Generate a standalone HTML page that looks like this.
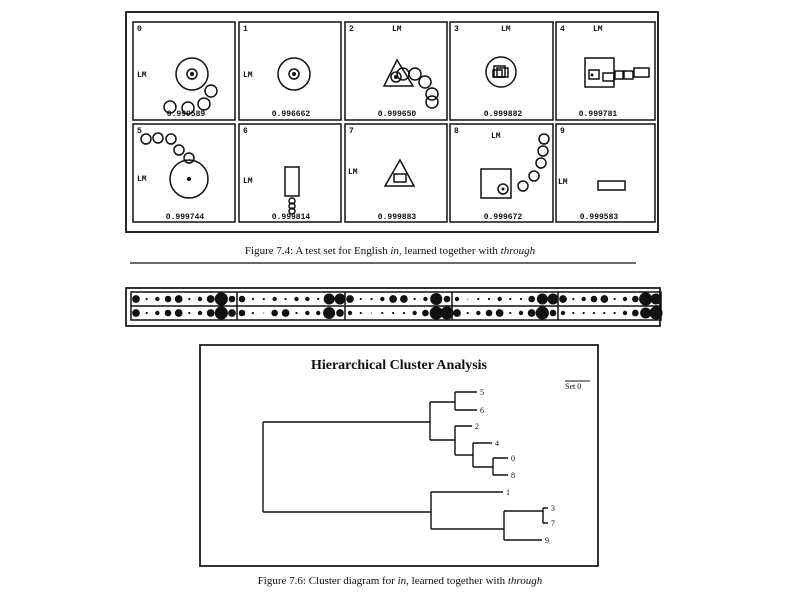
<!DOCTYPE html>
<html><head><meta charset="utf-8"><style>
body{margin:0;background:#fff;}
svg{display:block}
text{font-family:"Liberation Mono",monospace;font-size:8px;font-weight:bold;fill:#111}
.s{font-family:"Liberation Serif",serif;font-weight:normal;font-size:11px}
</style></head><body>
<svg id="s" width="800" height="600" viewBox="0 0 800 600" xmlns="http://www.w3.org/2000/svg">
<g fill="none" stroke="#111" stroke-width="1.5">
<rect x="126" y="12" width="532" height="220" stroke-width="1.8"/>
<rect x="133" y="22" width="102" height="98"/>
<rect x="239" y="22" width="102" height="98"/>
<rect x="345" y="22" width="102" height="98"/>
<rect x="450" y="22" width="103" height="98"/>
<rect x="556" y="22" width="99" height="98"/>
<rect x="133" y="124" width="102" height="98"/>
<rect x="239" y="124" width="102" height="98"/>
<rect x="345" y="124" width="102" height="98"/>
<rect x="450" y="124" width="103" height="98"/>
<rect x="556" y="124" width="99" height="98"/>
<circle cx="192" cy="74" r="16"/><circle cx="192" cy="74" r="5"/>
<circle cx="211" cy="91" r="6"/><circle cx="204" cy="104" r="6"/><circle cx="188" cy="108" r="6"/><circle cx="170" cy="107" r="6"/>
<circle cx="294" cy="74" r="16"/><circle cx="294" cy="74" r="5"/>
<polygon points="397,60 384,86 413,86"/>
<circle cx="396" cy="77" r="5"/><circle cx="403" cy="74" r="6"/><circle cx="415" cy="74" r="6"/><circle cx="425" cy="82" r="6"/><circle cx="432" cy="94" r="6"/><circle cx="432" cy="102" r="6"/>
<circle cx="501" cy="72" r="15"/><rect x="494" y="66" width="11" height="11"/><rect x="497" y="68" width="11" height="9"/><rect x="493" y="70" width="9" height="7"/>
<rect x="585" y="58" width="29" height="29"/><rect x="589" y="70" width="10" height="9"/><rect x="603" y="73" width="11" height="8"/><rect x="615" y="71" width="8" height="8"/><rect x="624" y="71" width="9" height="8"/><rect x="634" y="68" width="15" height="9"/>
<circle cx="146" cy="139" r="5"/><circle cx="158" cy="138" r="5"/><circle cx="171" cy="139" r="5"/><circle cx="179" cy="150" r="5"/><circle cx="189" cy="158" r="5"/>
<circle cx="189" cy="179" r="19"/>
<rect x="285" y="167" width="14" height="29"/><circle cx="292" cy="201" r="3"/><circle cx="292" cy="206" r="3"/><circle cx="292" cy="211" r="3"/>
<polygon points="400,160 385,186 414,186"/><rect x="394" y="174" width="12" height="8"/>
<rect x="481" y="169" width="30" height="29"/>
<circle cx="503" cy="189" r="5"/><circle cx="523" cy="186" r="5"/><circle cx="534" cy="176" r="5"/><circle cx="541" cy="163" r="5"/><circle cx="543" cy="151" r="5"/><circle cx="544" cy="139" r="5"/>
<rect x="598" y="181" width="27" height="9"/>
<line x1="130" y1="263" x2="636" y2="263" stroke-width="1.2"/>
<rect x="126" y="288" width="534" height="38" stroke-width="1.7"/>
<rect x="131" y="292" width="530" height="28"/>
<line x1="131" y1="306" x2="661" y2="306"/>
<line x1="237" y1="292" x2="237" y2="320"/><line x1="345" y1="292" x2="345" y2="320"/><line x1="452" y1="292" x2="452" y2="320"/><line x1="558" y1="292" x2="558" y2="320"/>
<rect x="200" y="345" width="398" height="221" stroke-width="1.7"/>
<path d="M263 422V512M263 422H430M430 402V440M430 402H455M455 392V410M455 392H477M455 410H477M430 440H455M455 426V455M455 426H472M455 455H473M473 443V467M473 443H492M473 467H493M493 458V475M493 458H508M493 475H508M263 512H431M431 492V529M431 492H503M431 529H504M504 511V540M504 511H543M543 508V523M543 508H548M543 523H548M504 540H542" stroke-width="1.4"/>
<line x1="565" y1="381" x2="590" y2="381" stroke-width="0.9"/>
</g>
<g fill="#111" id="dots"><circle cx="192" cy="74" r="2"/><circle cx="294" cy="74" r="2"/><circle cx="396" cy="77" r="2"/><circle cx="592" cy="75" r="1.5"/><circle cx="189" cy="179" r="2"/><circle cx="503" cy="189" r="1.5"/></g>
<text x="137" y="31">0</text><text x="243" y="31">1</text><text x="349" y="31">2</text><text x="454" y="31">3</text><text x="560" y="31">4</text>
<text x="137" y="133">5</text><text x="243" y="133">6</text><text x="349" y="133">7</text><text x="454" y="133">8</text><text x="560" y="133">9</text>
<text x="137" y="77">LM</text><text x="243" y="77">LM</text><text x="392" y="31">LM</text><text x="501" y="31">LM</text><text x="593" y="31">LM</text>
<text x="137" y="181">LM</text><text x="243" y="183">LM</text><text x="348" y="174">LM</text><text x="491" y="138">LM</text><text x="558" y="184">LM</text>
<g text-anchor="middle"><text x="186" y="116">0.999589</text><text x="291" y="116">0.996662</text><text x="397" y="116">0.999650</text><text x="503" y="116">0.999882</text><text x="598" y="116">0.999781</text>
<text x="185" y="219">0.999744</text><text x="291" y="219">0.999814</text><text x="397" y="219">0.999883</text><text x="503" y="219">0.999672</text><text x="599" y="219">0.999583</text></g>
<text class="s" x="390" y="254" text-anchor="middle">Figure 7.4: A test set for English <tspan font-style="italic">in</tspan>, learned together with <tspan font-style="italic">through</tspan></text>
<text class="s" x="399" y="369" text-anchor="middle" style="font-size:14px;font-weight:bold">Hierarchical Cluster Analysis</text>
<text class="s" x="565" y="389" style="font-size:8px">Set 0</text>
<g><text class="s" x="480" y="395" style="font-size:8px">5</text><text class="s" x="480" y="413" style="font-size:8px">6</text><text class="s" x="475" y="429" style="font-size:8px">2</text><text class="s" x="495" y="446" style="font-size:8px">4</text><text class="s" x="511" y="461" style="font-size:8px">0</text><text class="s" x="511" y="478" style="font-size:8px">8</text><text class="s" x="506" y="495" style="font-size:8px">1</text><text class="s" x="551" y="511" style="font-size:8px">3</text><text class="s" x="551" y="526" style="font-size:8px">7</text><text class="s" x="545" y="543" style="font-size:8px">9</text></g>
<text class="s" x="400" y="584" text-anchor="middle">Figure 7.6: Cluster diagram for <tspan font-style="italic">in</tspan>, learned together with <tspan font-style="italic">through</tspan></text>
</svg>
<script>
var g=document.getElementById('dots'),segs=[131,237,345,452,558];
var pats=[[3.5,1,2,3,3.5,1,2,3.5,6,3],[3,1,1,2,1,2,2,1,5,5],[3.5,1,1,2,3.5,3.5,1,2,5.5,3],[2,0.5,1,1,2,1,1,3,5,5],[3.5,1,2,3,3.5,1,2,3,6,5]];
var pats2=[[3.5,1,2,3,3.5,1,2,3.5,6,3.5],[3,1,0.5,3,3.5,1,2,2,5.5,3.5],[2,1,0.5,1,1,1,2,3,6,6],[3.5,1,2,3,3.5,1,2,3.5,6,3],[2,1,1,1,1,1,2,3,5,6]];
for(var s=0;s<5;s++){var x0=segs[s],w=(s<4?segs[s+1]:661)-x0;for(var i=0;i<10;i++){var x=x0+5+i*(w-10)/9;[[299,pats],[313,pats2]].forEach(function(r){var c=document.createElementNS('http://www.w3.org/2000/svg','circle');c.setAttribute('cx',x);c.setAttribute('cy',r[0]);c.setAttribute('r',r[1][s][i]*1.1);g.appendChild(c);});}}
</script>
</body></html>
